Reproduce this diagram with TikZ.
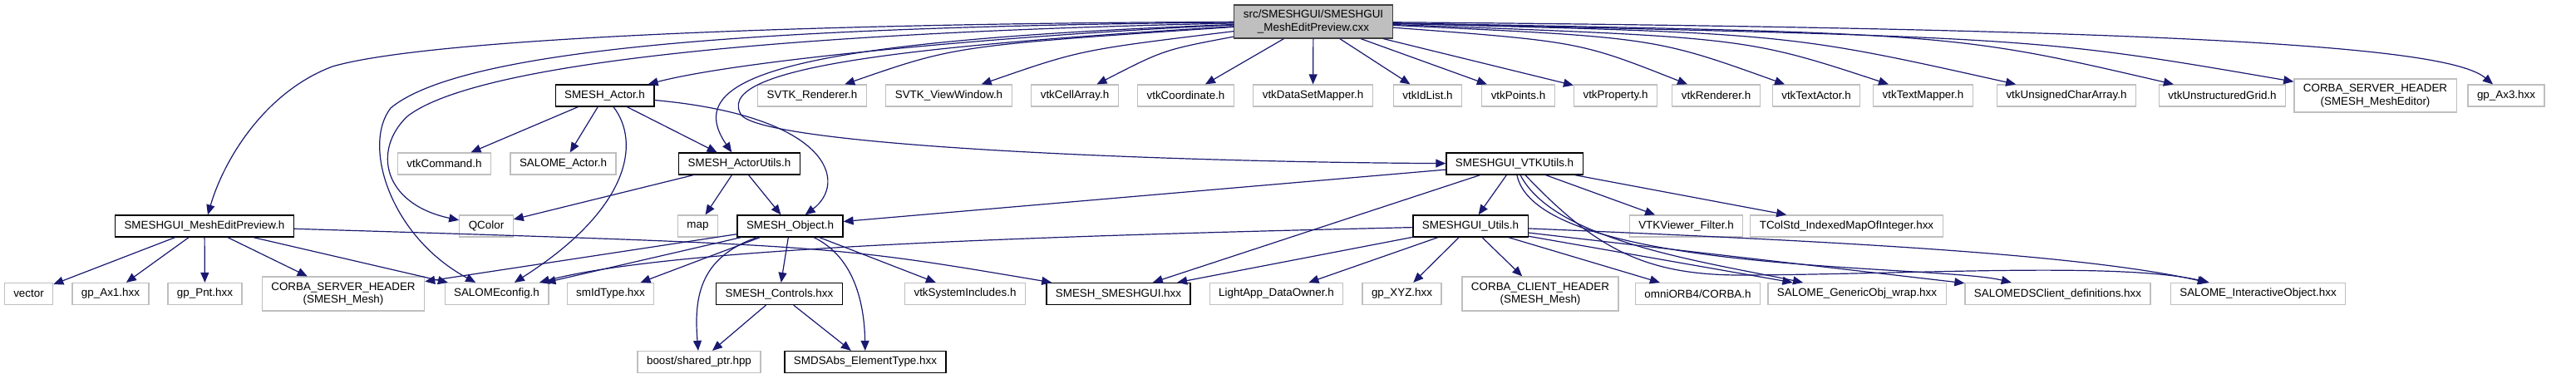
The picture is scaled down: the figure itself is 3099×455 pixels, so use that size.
\documentclass[tikz,border=0pt]{standalone}
\usepackage{fontspec}
\setmainfont{Liberation Sans}
\usetikzlibrary{arrows.meta}
\definecolor{DepBlue}{HTML}{191970}
\definecolor{BoxGrey}{HTML}{BFBFBF}
\definecolor{RootEdge}{HTML}{404040}

\begin{document}
\begin{tikzpicture}[
    x=1pt, y=-1pt,
    hdr/.style={
      draw=BoxGrey,
      fill=white,
      line width=1.2pt,
      minimum height=26pt,
      inner xsep=11pt,
      inner ysep=3pt,
      align=center,
      font=\fontsize{13.4}{15.5}\selectfont
    },
    doc/.style={
      hdr,
      draw=black
    },
    rootfile/.style={
      hdr,
      draw=RootEdge,
      fill=BoxGrey,
      minimum height=40pt
    },
    dep/.style={
      -{Triangle[length=12pt,width=10pt]},
      color=DepBlue,
      line width=1.2pt
    }
  ]
  \useasboundingbox (0,0) rectangle (3099,455);

  % Root
  \node[rootfile] (root) at (1580,26) {src/SMESHGUI/SMESHGUI\\\_MeshEditPreview.cxx};

  % First row
  \node[doc] (actor) at (727.5,115) {SMESH\_Actor.h};
  \node[hdr] (svtkRen) at (977,115) {SVTK\_Renderer.h};
  \node[hdr] (svtkView) at (1141.5,115) {SVTK\_ViewWindow.h};
  \node[hdr] (cellArray) at (1293,115) {vtkCellArray.h};
  \node[hdr] (coordinate) at (1426.5,115) {vtkCoordinate.h};
  \node[hdr] (dsMapper) at (1579.5,115) {vtkDataSetMapper.h};
  \node[hdr] (idList) at (1717.5,115) {vtkIdList.h};
  \node[hdr] (points) at (1826.5,115) {vtkPoints.h};
  \node[hdr] (property) at (1943.5,115) {vtkProperty.h};
  \node[hdr] (renderer) at (2064.5,115) {vtkRenderer.h};
  \node[hdr] (textActor) at (2185,115) {vtkTextActor.h};
  \node[hdr] (textMapper) at (2313.5,115) {vtkTextMapper.h};
  \node[hdr] (ucharArray) at (2486,115) {vtkUnsignedCharArray.h};
  \node[hdr] (ugrid) at (2673.5,115) {vtkUnstructuredGrid.h};
  \node[hdr, minimum height=40pt] (corbaEditor) at (2857.5,115) {CORBA\_SERVER\_HEADER\\(SMESH\_MeshEditor)};
  \node[hdr] (ax3) at (3015,115) {gp\_Ax3.hxx};

  % Second row
  \node[hdr] (vtkCommand) at (534.5,197) {vtkCommand.h};
  \node[hdr] (salomeActor) at (677.5,197) {SALOME\_Actor.h};
  \node[doc] (actorUtils) at (889.5,197) {SMESH\_ActorUtils.h};
  \node[doc] (vtkUtils) at (1822,197) {SMESHGUI\_VTKUtils.h};

  % Third row
  \node[doc] (preview) at (246,272) {SMESHGUI\_MeshEditPreview.h};
  \node[hdr] (qcolor) at (585,272) {QColor};
  \node[hdr] (map) at (839.5,272) {map};
  \node[doc] (object) at (950.5,272) {SMESH\_Object.h};
  \node[doc] (guiUtils) at (1769,272) {SMESHGUI\_Utils.h};
  \node[hdr] (filter) at (2028.5,272) {VTKViewer\_Filter.h};
  \node[hdr] (idxMap) at (2221.5,272) {TColStd\_IndexedMapOfInteger.hxx};

  % Fourth row
  \node[hdr] (vector) at (34.5,353.5) {vector};
  \node[hdr] (ax1) at (133,353.5) {gp\_Ax1.hxx};
  \node[hdr] (pnt) at (246.5,353.5) {gp\_Pnt.hxx};
  \node[hdr, minimum height=41pt] (corbaMesh) at (413,353.5) {CORBA\_SERVER\_HEADER\\(SMESH\_Mesh)};
  \node[hdr] (salomeConfig) at (597.5,353.5) {SALOMEconfig.h};
  \node[hdr] (smIdType) at (734.5,353.5) {smIdType.hxx};
  \node[doc] (controls) at (937.5,353.5) {SMESH\_Controls.hxx};
  \node[hdr] (vtkSys) at (1161,353.5) {vtkSystemIncludes.h};
  \node[doc] (smeshGui) at (1345.5,353.5) {SMESH\_SMESHGUI.hxx};
  \node[hdr] (dataOwner) at (1535.5,353.5) {LightApp\_DataOwner.h};
  \node[hdr] (xyz) at (1686.5,353.5) {gp\_XYZ.hxx};
  \node[hdr, minimum height=41pt] (corbaClient) at (1853,353.5) {CORBA\_CLIENT\_HEADER\\(SMESH\_Mesh)};
  \node[hdr] (omni) at (2042.5,353.5) {omniORB4/CORBA.h};
  \node[hdr] (genObj) at (2234,353.5) {SALOME\_GenericObj\_wrap.hxx};
  \node[hdr] (dsClient) at (2475.5,353.5) {SALOMEDSClient\_definitions.hxx};
  \node[hdr] (ioObj) at (2716.5,353.5) {SALOME\_InteractiveObject.hxx};

  % Fifth row
  \node[hdr] (boost) at (841,435.5) {boost/shared\_ptr.hpp};
  \node[doc] (elemType) at (1041,435.5) {SMDSAbs\_ElementType.hxx};

  % Root includes
  \draw[dep] (root) .. controls (1000,28) and (520,45) .. (400,80)
    .. controls (320,110) and (270,190) .. (preview);
  \draw[dep] (root) .. controls (950,32) and (560,55) .. (470,130)
    .. controls (435,175) and (470,285) .. (salomeConfig);
  \draw[dep] (root) .. controls (1000,38) and (580,70) .. (490,140)
    .. controls (448,180) and (460,245) .. (qcolor);
  \draw[dep] (root) .. controls (1250,40) and (900,70) .. (actor);
  \draw[dep] (root) .. controls (930,50) and (820,95) .. (actorUtils);
  \draw[dep] (root) .. controls (1100,55) and (865,80) .. (890,135)
    .. controls (895,175) and (1400,195) .. (vtkUtils);
  \draw[dep] (root) .. controls (1150,55) .. (svtkRen);
  \draw[dep] (root) .. controls (1300,60) .. (svtkView);
  \draw[dep] (root) .. controls (1400,60) .. (cellArray);
  \draw[dep] (root) -- (coordinate);
  \draw[dep] (root) -- (dsMapper);
  \draw[dep] (root) -- (idList);
  \draw[dep] (root) -- (points);
  \draw[dep] (root) -- (property);
  \draw[dep] (root) .. controls (1900,50) .. (renderer);
  \draw[dep] (root) .. controls (1990,45) .. (textActor);
  \draw[dep] (root) .. controls (2100,45) .. (textMapper);
  \draw[dep] (root) .. controls (2150,40) .. (ucharArray);
  \draw[dep] (root) .. controls (2350,40) .. (ugrid);
  \draw[dep] (root) .. controls (2450,45) .. (corbaEditor);
  \draw[dep] (root) .. controls (2700,35) and (2950,60) .. (ax3);

  % SMESH_Actor.h
  \draw[dep] (actor) -- (vtkCommand);
  \draw[dep] (actor) -- (salomeActor);
  \draw[dep] (actor) .. controls (770,170) and (760,250) .. (salomeConfig);
  \draw[dep] (actor) -- (actorUtils);
  \draw[dep] (actor) .. controls (1000,140) and (1020,220) .. (object);

  % SMESH_ActorUtils.h
  \draw[dep] (actorUtils) -- (qcolor);
  \draw[dep] (actorUtils) -- (map);
  \draw[dep] (actorUtils) -- (object);

  % SMESH_Object.h
  \draw[dep] (object) -- (corbaMesh);
  \draw[dep] (object) -- (salomeConfig);
  \draw[dep] (object) -- (smIdType);
  \draw[dep] (object) .. controls (840,310) and (835,360) .. (boost);
  \draw[dep] (object) -- (controls);
  \draw[dep] (object) .. controls (1030,310) and (1040,370) .. (elemType);
  \draw[dep] (object) -- (vtkSys);

  % SMESH_Controls.hxx
  \draw[dep] (controls) -- (boost);
  \draw[dep] (controls) -- (elemType);

  % SMESHGUI_MeshEditPreview.h
  \draw[dep] (preview) -- (vector);
  \draw[dep] (preview) -- (ax1);
  \draw[dep] (preview) -- (pnt);
  \draw[dep] (preview) -- (corbaMesh);
  \draw[dep] (preview) -- (salomeConfig);
  \draw[dep] (preview) .. controls (1000,295) .. (smeshGui);

  % SMESHGUI_VTKUtils.h
  \draw[dep] (vtkUtils) -- (object);
  \draw[dep] (vtkUtils) -- (smeshGui);
  \draw[dep] (vtkUtils) -- (guiUtils);
  \draw[dep] (vtkUtils) -- (filter);
  \draw[dep] (vtkUtils) -- (idxMap);
  \draw[dep] (vtkUtils) .. controls (1870,290) and (2050,315) .. (genObj);
  \draw[dep] (vtkUtils) .. controls (1850,330) and (2330,318) .. (dsClient);
  \draw[dep] (vtkUtils) .. controls (1920,300) and (1980,332) .. (2100,331)
    .. controls (2300,330) and (2550,315) .. (ioObj);

  % SMESHGUI_Utils.h
  \draw[dep] (guiUtils) .. controls (1200,285) and (800,300) .. (salomeConfig);
  \draw[dep] (guiUtils) -- (smeshGui);
  \draw[dep] (guiUtils) -- (dataOwner);
  \draw[dep] (guiUtils) -- (xyz);
  \draw[dep] (guiUtils) -- (corbaClient);
  \draw[dep] (guiUtils) -- (omni);
  \draw[dep] (guiUtils) -- (genObj);
  \draw[dep] (guiUtils) -- (dsClient);
  \draw[dep] (guiUtils) .. controls (2200,290) and (2500,305) .. (ioObj);

\end{tikzpicture}
\end{document}
